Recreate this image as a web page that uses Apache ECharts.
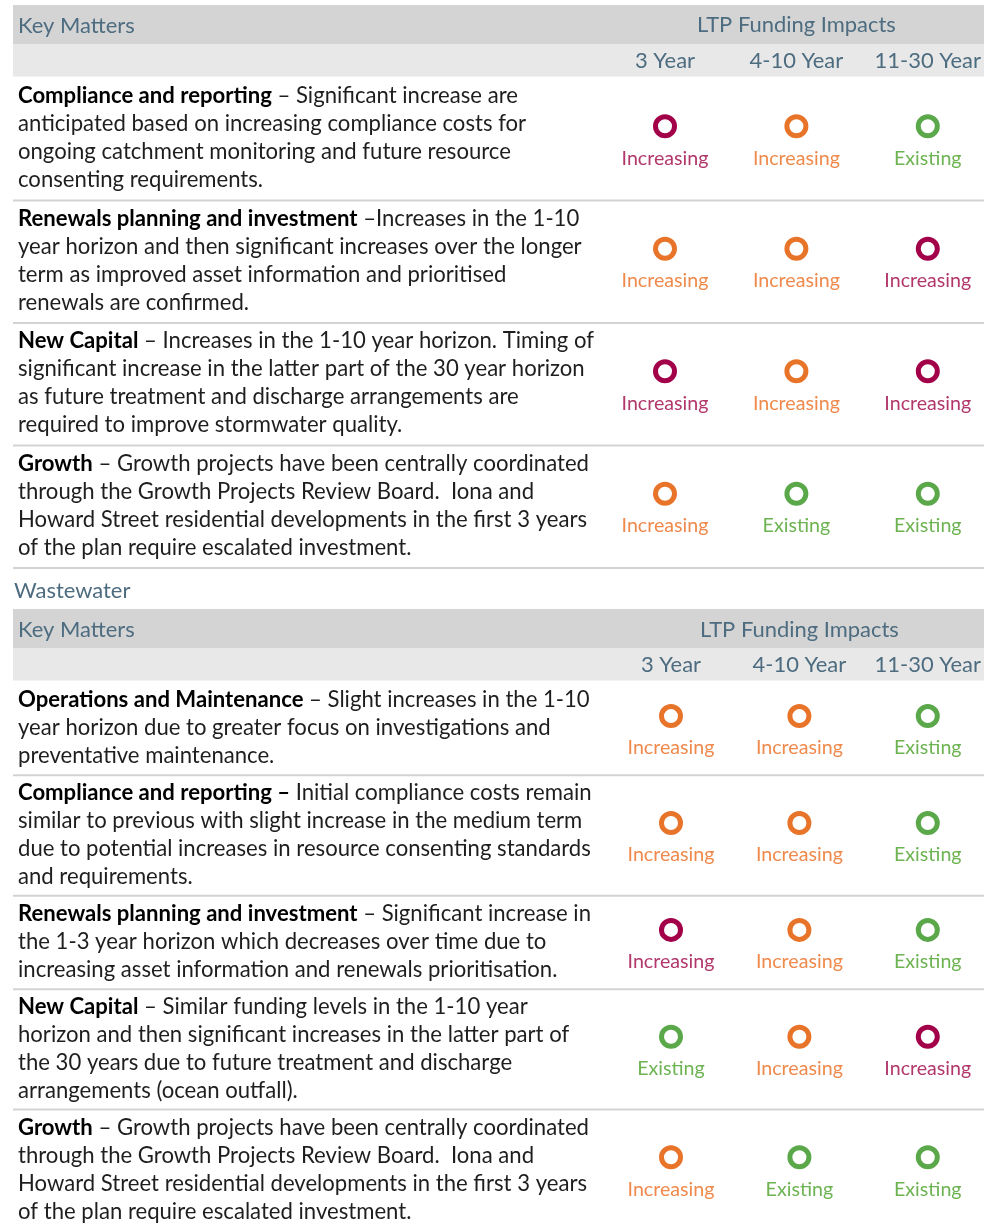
<!DOCTYPE html>
<html><head><meta charset="utf-8">
<script src="https://cdn.jsdelivr.net/npm/echarts@6/dist/echarts.min.js"></script>
<style>html,body{margin:0;padding:0;background:#fff}#c{width:984px;height:1230px}</style>
</head><body><div id="c"></div>
<script>
// ---------- data ----------
const periods = ['3 Year', '4-10 Year', '11-30 Year'];
const headerLeft = 'Key Matters';
const headerRight = 'LTP Funding Impacts';
const section2Title = 'Wastewater';
const levelLabels = { high: 'Increasing', inc: 'Increasing', ex: 'Existing' };

const s1Titles = ['Compliance and reporting', 'Renewals planning and investment', 'New Capital', 'Growth'];
const s1Text = [
  [' – Significant increase are', 'anticipated based on increasing compliance costs for', 'ongoing catchment monitoring and future resource', 'consenting requirements.'],
  [' –Increases in the 1-10', 'year horizon and then significant increases over the longer', 'term as improved asset information and prioritised', 'renewals are confirmed.'],
  [' – Increases in the 1-10 year horizon. Timing of', 'significant increase in the latter part of the 30 year horizon', 'as future treatment and discharge arrangements are', 'required to improve stormwater quality.'],
  [' – Growth projects have been centrally coordinated', 'through the Growth Projects Review Board.  Iona and', 'Howard Street residential developments in the first 3 years', 'of the plan require escalated investment.']
];
const s1Impacts = [
  ['high', 'inc', 'ex'],
  ['inc', 'inc', 'high'],
  ['high', 'inc', 'high'],
  ['inc', 'ex', 'ex']
];

const s2Titles = ['Operations and Maintenance', 'Compliance and reporting –', 'Renewals planning and investment', 'New Capital', 'Growth'];
const s2Text = [
  [' – Slight increases in the 1-10', 'year horizon due to greater focus on investigations and', 'preventative maintenance.'],
  [' Initial compliance costs remain', 'similar to previous with slight increase in the medium term', 'due to potential increases in resource consenting standards', 'and requirements.'],
  [' – Significant increase in', 'the 1-3 year horizon which decreases over time due to', 'increasing asset information and renewals prioritisation.'],
  [' – Similar funding levels in the 1-10 year', 'horizon and then significant increases in the latter part of', 'the 30 years due to future treatment and discharge', 'arrangements (ocean outfall).'],
  [' – Growth projects have been centrally coordinated', 'through the Growth Projects Review Board.  Iona and', 'Howard Street residential developments in the first 3 years', 'of the plan require escalated investment.']
];
const s2Impacts = [
  ['inc', 'inc', 'ex'],
  ['inc', 'inc', 'ex'],
  ['high', 'inc', 'ex'],
  ['ex', 'inc', 'high'],
  ['inc', 'ex', 'ex']
];

// ---------- styling ----------
const FONT = 'Lato';
const SLATE = '#4d6c80';
const ring = { high: '#a3004a', inc: '#e8742a', ex: '#5aa84a' };
const txt = { high: '#b2386c', inc: '#ef8a4c', ex: '#6db352' };
const LINE = 28;
const PADS = [10.5, 12.5];

const mctx = document.createElement('canvas').getContext('2d');
function fit(text, target, weight) {
  mctx.font = (weight || 'normal') + ' 100px ' + FONT;
  return 100 * target / mctx.measureText(text).width;
}
const descSize = fit(s1Text[1][1], 564);
const labelSize = fit('Increasing', 87);
const headSize = fit(headerRight, 199);

function buildSection(titles, texts, impacts, pad) {
  let acc = 0;
  const rows = texts.map(t => {
    const h = (t.length * LINE + pad) / LINE;
    const r = { top: acc, h, center: acc + h / 2 };
    acc += h;
    return r;
  });
  return { rows, total: acc, titles, texts, impacts };
}
const sections = [
  buildSection(s1Titles, s1Text, s1Impacts, PADS[0]),
  buildSection(s2Titles, s2Text, s2Impacts, PADS[1])
];
const gridTops = [78, 682];
const gridLefts = [665, 671];
const gridWidths = [265, 262];

function scatterData(sec) {
  const d = [];
  sec.impacts.forEach((row, ri) => row.forEach((lv, ci) => {
    d.push({
      value: [ci, sec.rows[ri].center - 13 / LINE],
      itemStyle: { color: '#fff', borderColor: ring[lv], borderWidth: 5, opacity: 1 },
      label: { formatter: levelLabels[lv], color: txt[lv] }
    });
  }));
  return d;
}

const chart = echarts.init(document.getElementById('c'), null, { renderer: 'canvas' });
chart.setOption({
  animation: false,
  backgroundColor: '#fff',
  grid: sections.map((s, i) => ({ left: gridLefts[i], top: gridTops[i], width: gridWidths[i], height: s.total * LINE })),
  xAxis: sections.map((s, i) => ({
    type: 'category', gridIndex: i, data: periods, position: 'top', boundaryGap: false,
    axisLine: { show: false }, axisTick: { show: false }, splitLine: { show: false },
    axisLabel: { interval: 0, margin: 6, fontFamily: FONT, fontSize: headSize, color: SLATE, hideOverlap: false },
    name: headerRight, nameLocation: 'middle', nameGap: 53 - i,
    nameTextStyle: { fontFamily: FONT, fontSize: headSize, color: SLATE, verticalAlign: 'middle' }
  })),
  yAxis: sections.map((s, i) => ({
    type: 'value', gridIndex: i, inverse: true, min: 0, max: s.total, show: false
  })),
  series: sections.map((s, i) => ({
    type: 'scatter', xAxisIndex: i, yAxisIndex: i, symbol: 'circle', symbolSize: 19,
    z: 5, clip: false,
    itemStyle: { opacity: 1 },
    label: { show: true, position: 'inside', offset: [0, 32], fontFamily: FONT, fontSize: labelSize },
    data: scatterData(s)
  }))
});

// ---------- text, bands and rules placed through the axes ----------
const g = [];
sections.forEach((s, i) => {
  const py = v => chart.convertToPixel({ yAxisIndex: i }, v);
  const top = py(0);
  g.push({ type: 'rect', z: 0, shape: { x: 13, y: top - 73, width: 984, height: 39 }, style: { fill: '#d4d4d4' } });
  g.push({ type: 'rect', z: 0, shape: { x: 13, y: top - 34, width: 984, height: 32.5 }, style: { fill: '#e8e8e8' } });
  g.push({ type: 'text', z: 1, x: 18, y: top - 52, style: { text: headerLeft, fill: SLATE, font: headSize + 'px ' + FONT, verticalAlign: 'middle' } });
  s.rows.forEach((r, ri) => {
    const yTop = py(r.top);
    const lines = s.texts[ri];
    const str = '{b|' + s.titles[ri] + '}{n|' + lines[0] + '}' + lines.slice(1).map(l => '\n{n|' + l + '}').join('');
    g.push({
      type: 'text', z: 2, x: 18, y: yTop + 4,
      style: {
        text: str, verticalAlign: 'top', lineHeight: LINE,
        rich: {
          b: { fontFamily: FONT, fontSize: descSize, fontWeight: 'bold', fill: '#000', lineHeight: LINE },
          n: { fontFamily: FONT, fontSize: descSize, fill: '#1e1e1e', lineHeight: LINE }
        }
      }
    });
    const yb = py(r.top + r.h);
    if (yb < 1230) g.push({ type: 'rect', z: 1, shape: { x: 13, y: yb - 1, width: 984, height: 2 }, style: { fill: '#d3d3d3' } });
  });
  if (i === 1) {
    g.push({ type: 'text', z: 1, x: 14, y: top - 91, style: { text: section2Title, fill: SLATE, font: headSize + 'px ' + FONT, verticalAlign: 'middle' } });
  }
});
chart.setOption({ graphic: g });
</script>
</body></html>
